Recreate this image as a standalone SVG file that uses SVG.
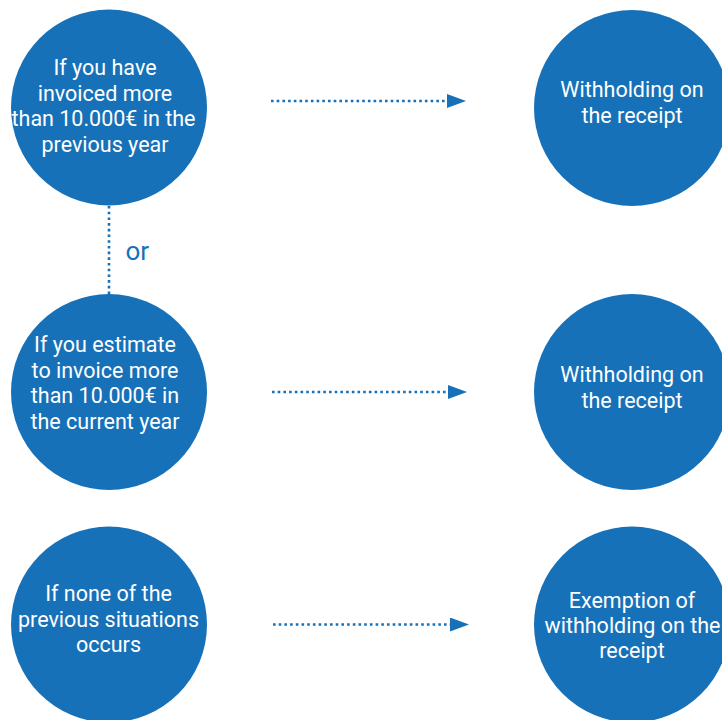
<svg xmlns="http://www.w3.org/2000/svg" width="722" height="720" viewBox="0 0 722 720">
<style>
.node circle{fill:#1671b8}
.node text{fill:#ffffff;font-family:Roboto,"Liberation Sans",sans-serif;font-size:21.5px;text-anchor:middle}
.conn{stroke:#1671b8;stroke-width:2.6;stroke-dasharray:2.6 3.1;fill:none}
.lbl{fill:#1671b8;font-family:Roboto,"Liberation Sans",sans-serif;font-size:26px}
</style>
<defs>
<marker id="ah" viewBox="0 0 19 14" refX="0" refY="7" markerWidth="19" markerHeight="14" markerUnits="userSpaceOnUse" orient="auto">
<path d="M0,0 L19,7 L0,14 Z" fill="#1671b8"/>
</marker>
</defs>
<g id="connectors">
<line class="conn" x1="271" y1="101" x2="447" y2="101" marker-end="url(#ah)"/>
<line class="conn" x1="272" y1="392" x2="448" y2="392" marker-end="url(#ah)"/>
<line class="conn" x1="273" y1="624.5" x2="450" y2="624.5" marker-end="url(#ah)"/>
<line class="conn" x1="109" y1="206" x2="109" y2="294"/>
<text class="lbl" x="125.5" y="259.5">or</text>
</g>
<g id="n1" class="node">
<circle cx="109" cy="107.5" r="98"/>
<text x="105" y="75">If you have</text>
<text x="105" y="100.5">invoiced more</text>
<text x="103.5" y="126">than 10.000€ in the</text>
<text x="105" y="151.5">previous year</text>
</g>
<g id="n2" class="node">
<circle cx="109" cy="392" r="98"/>
<text x="105" y="352">If you estimate</text>
<text x="105" y="377.5">to invoice more</text>
<text x="105" y="403">than 10.000€ in</text>
<text x="105" y="429">the current year</text>
</g>
<g id="n3" class="node">
<circle cx="109" cy="624.5" r="98"/>
<text x="108.5" y="600.5">If none of the</text>
<text x="108.5" y="626.5">previous situations</text>
<text x="108.5" y="652">occurs</text>
</g>
<g id="r1" class="node">
<circle cx="632" cy="108" r="98"/>
<text x="632" y="97">Withholding on</text>
<text x="632" y="123">the receipt</text>
</g>
<g id="r2" class="node">
<circle cx="632" cy="392" r="98"/>
<text x="632" y="381.5">Withholding on</text>
<text x="632" y="407.5">the receipt</text>
</g>
<g id="r3" class="node">
<circle cx="632" cy="624.5" r="98"/>
<text x="632" y="607.5">Exemption of</text>
<text x="632.5" y="633">withholding on the</text>
<text x="632" y="658">receipt</text>
</g>
</svg>
